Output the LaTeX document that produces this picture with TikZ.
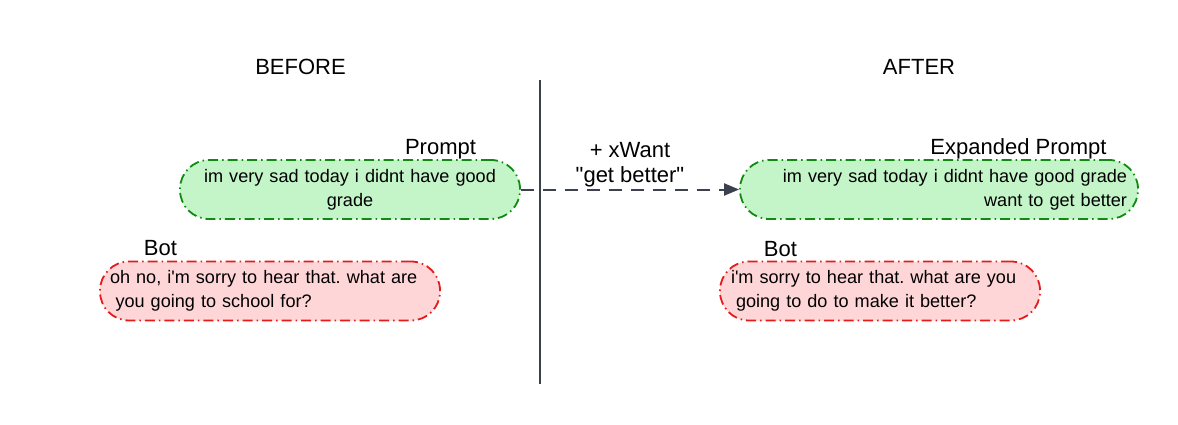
\documentclass[tikz,border=0pt]{standalone}
\usepackage{fontspec}
\setmainfont{Liberation Sans}
\usetikzlibrary{arrows.meta}
\frenchspacing
\definecolor{gfill}{HTML}{C4F5C8}
\definecolor{gline}{HTML}{108A10}
\definecolor{rfill}{HTML}{FFD6D8}
\definecolor{rline}{HTML}{E51A1A}
\definecolor{ink}{HTML}{3B424D}
\tikzset{
  x=1pt, y=-1pt,
  bubble/.style={rounded corners=29pt, line width=1.8pt,
    dash pattern=on 10pt off 4pt on 1.5pt off 4pt,
    minimum height=59pt, inner xsep=2pt, inner ysep=0pt,
    font=\fontsize{18.1}{24}\selectfont},
  gbub/.style={bubble, draw=gline, fill=gfill},
  rbub/.style={bubble, draw=rline, fill=rfill},
  lab/.style={inner sep=0pt, anchor=base, font=\fontsize{22}{26}\selectfont},
  conn/.style={draw=ink, line width=2pt, dash pattern=on 13pt off 9pt,
    -{Triangle[length=15pt,width=12pt]}},
  divider/.style={draw=ink, line width=2pt}
}
\begin{document}
\begin{tikzpicture}
\useasboundingbox (0,0) rectangle (1178,425);
% headings
\node[lab] (before) at (300.5,74.5) {BEFORE};
\node[lab] (after) at (919,74.5) {AFTER};
% divider
\coordinate (dtop) at (540,80);
\coordinate (dbot) at (540,384);
\draw[divider] (dtop) -- (dbot);
% boxes
\node[gbub, minimum width=340pt, text width=320pt, align=center] (p1) at (350,189.5)
  {im very sad today i didnt have good\\grade};
\node[gbub, minimum width=398pt, text width=376pt, align=right] (p2) at (939,189.5)
  {im very sad today i didnt have good grade\\want to get better\hspace*{4pt}};
\node[rbub, minimum width=340pt, text width=320pt, align=left] (b1) at (270,291)
  {oh no, i\textquotesingle m sorry to hear that. what are\\\hspace*{5.5pt}you going to school for?};
\node[rbub, minimum width=320pt, text width=298pt, align=left] (b2) at (880,291)
  {i\textquotesingle m sorry to hear that. what are you\\\hspace*{5pt}going to do to make it better?};
% labels
\node[lab] (pl1) at (440.5,155) {Prompt};
\node[lab] (pl2) at (1018.5,155) {Expanded Prompt};
\node[lab] (bl1) at (160.5,255.7) {Bot};
\node[lab] (bl2) at (780.5,256) {Bot};
% connector
\draw[conn] (p1.east) -- (p2.west);
\node[inner sep=0pt, align=center, font=\fontsize{22}{25.5}\selectfont] (xw) at (630,164.5)
  {+ xWant\\\textquotedbl get better\textquotedbl};
\end{tikzpicture}
\end{document}
